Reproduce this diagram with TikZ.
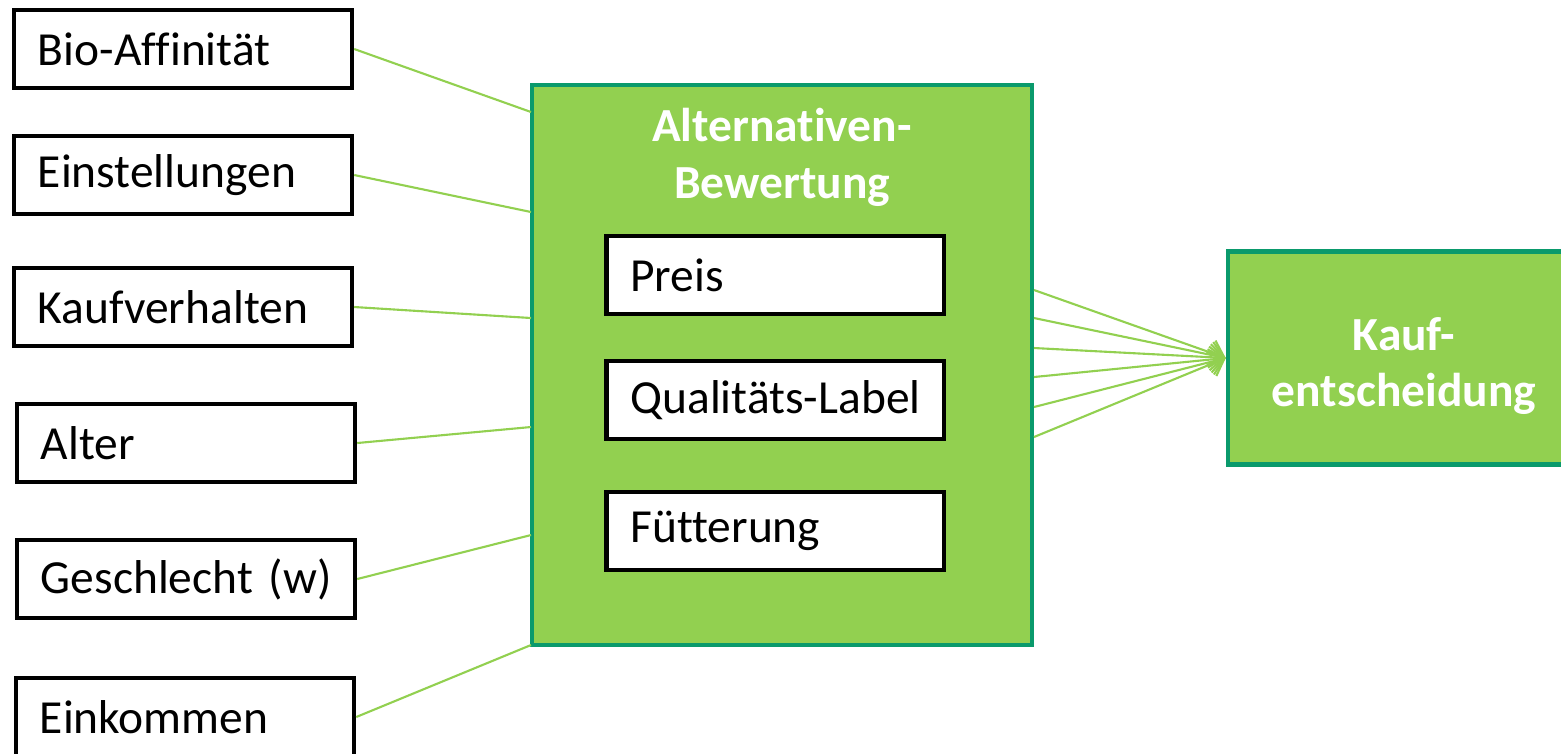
\documentclass[tikz,border=0pt]{standalone}
\usepackage{fontspec}
\setmainfont{Carlito}[Ligatures=NoCommon]
\usetikzlibrary{arrows.meta}
\definecolor{box fill}{HTML}{92D050}
\definecolor{box edge}{HTML}{0A9A6C}
\colorlet{link line}{box fill}
\tikzset{factor/.style={draw=black, line width=1.2pt, fill=white, align=left,
        text width=3.2cm, inner xsep=0.09cm, minimum height=0.78cm,
        execute at begin node=\hspace*{0.15cm},
        font=\fontsize{13.5}{16}\selectfont},
    greenbox/.style={draw=box edge, fill=box fill, line width=1.2pt},
    heading/.style={text=white, align=center, font=\fontsize{13.5}{16.2}\bfseries\selectfont},
    link/.style={draw=link line, line width=0.6pt},
    arrowlink/.style={link, -{Straight Barb[length=1.4mm,width=2.6mm]}}}

\begin{document}
\begin{tikzpicture}[x=0.01cm, y=-0.01cm]
    \useasboundingbox (0,0) rectangle (1561,753);
    % influencing factors
    \node[factor] (bio)  at (183,49)  {Bio-Affinität};
    \node[factor] (ein)  at (183,175) {Einstellungen};
    \node[factor] (kauf) at (183,307) {Kaufverhalten};
    \node[factor] (alt)  at (186,443) {Alter};
    \node[factor] (ges)  at (186,579) {Geschlecht (w)};
    \node[factor] (eink) at (185,717) {Einkommen};
    % evaluation of alternatives
    \node[greenbox, minimum width=5cm, minimum height=5.6cm] (bew) at (782,365) {};
    \node[heading] (titel) at (782,157) {Alternativen-\\Bewertung};
    \node[factor, text width=3.19cm] (preis) at (775,275) {Preis};
    \node[factor, text width=3.19cm] (label) at (775,400) {Qualitäts-Label};
    \node[factor, text width=3.19cm] (futter) at (775,531) {Fütterung};
    % decision
    \node[greenbox, minimum width=3.52cm, minimum height=2.13cm] (ent) at (1404,358) {};
    \node[heading] (enttext) at (1404,366) {Kauf-\\entscheidung};
    % links
    \foreach \i/\y in {1/112, 2/212, 3/318, 4/427, 5/535, 6/645}
        \coordinate (in\i) at (531,\y);
    \foreach \src/\i in {bio/1, ein/2, kauf/3, alt/4, ges/5, eink/6}
        \draw[link] (\src.east) -- (in\i);
    \foreach \i/\y in {1/290, 2/318, 3/348, 4/377, 5/407, 6/437}
        \coordinate (out\i) at (1034,\y);
    \foreach \i in {1,...,6}
        \draw[arrowlink] (out\i) -- (ent.west);
\end{tikzpicture}
\end{document}
